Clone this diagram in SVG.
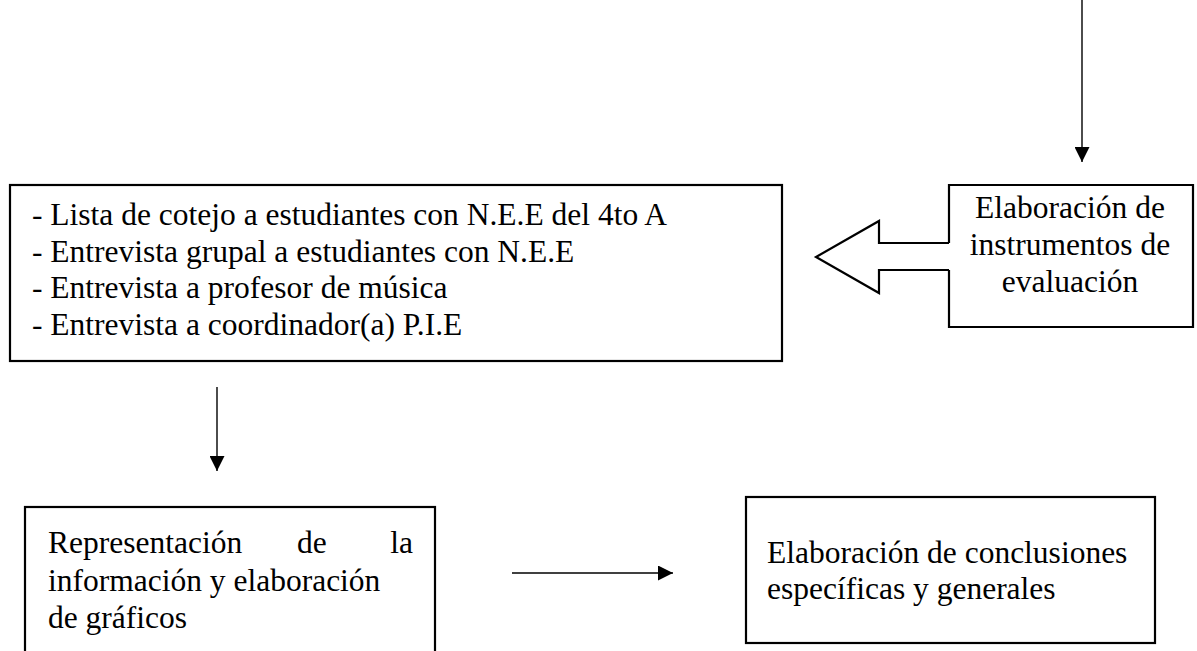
<svg xmlns="http://www.w3.org/2000/svg" width="1197" height="651" viewBox="0 0 1197 651">
<style>
.box{fill:#fff;stroke:#000;stroke-width:2.2}
.t{font-family:"Liberation Serif","Times New Roman",serif;font-size:31.5px;fill:#000}
.c{text-anchor:middle}
.ln{stroke:#000;stroke-width:1.4;fill:none}
.blk{fill:#fff;stroke:#000;stroke-width:2.2;stroke-linejoin:miter}
</style>
<defs>
<marker id="ah" markerWidth="15" markerHeight="15" refX="15" refY="7.5" orient="auto" markerUnits="userSpaceOnUse">
<path d="M0,0 L15,7.5 L0,15 Z" fill="#000"/>
</marker>
</defs>
<rect width="1197" height="651" fill="#fff"/>
<g id="connectors">
<line class="ln" x1="1082" y1="0" x2="1082" y2="162" marker-end="url(#ah)"/>
<line class="ln" x1="217" y1="387" x2="217" y2="471" marker-end="url(#ah)"/>
<line class="ln" x1="512" y1="573" x2="673" y2="573" marker-end="url(#ah)"/>
<polyline class="blk" points="949,243 879,243 879,221 816,257 879,293 879,270 949,270"/>
</g>
<g id="node-instrumentos">
<path class="box" d="M949,243 L949,185 L1193,185 L1193,327 L949,327 L949,270"/>
<text class="t c" x="1070" y="218">Elaboración de</text>
<text class="t c" x="1070" y="255">instrumentos de</text>
<text class="t c" x="1070" y="292">evaluación</text>
</g>
<g id="node-lista">
<rect class="box" x="10" y="185" width="772" height="176"/>
<text class="t" x="32" y="225">- Lista de cotejo a estudiantes con N.E.E del 4to A</text>
<text class="t" x="32" y="262">- Entrevista grupal a estudiantes con N.E.E</text>
<text class="t" x="32" y="298">- Entrevista a profesor de música</text>
<text class="t" x="32" y="335">- Entrevista a coordinador(a) P.I.E</text>
</g>
<g id="node-representacion">
<rect class="box" x="25" y="507" width="410" height="160"/>
<text class="t" x="48" y="553">Representación</text>
<text class="t" x="297" y="553">de</text>
<text class="t" x="413" y="553" text-anchor="end">la</text>
<text class="t" x="48" y="591">información y elaboración</text>
<text class="t" x="48" y="628">de gráficos</text>
</g>
<g id="node-conclusiones">
<rect class="box" x="746" y="497" width="409" height="146"/>
<text class="t" x="767" y="563">Elaboración de conclusiones</text>
<text class="t" x="767" y="599">específicas y generales</text>
</g>
</svg>
